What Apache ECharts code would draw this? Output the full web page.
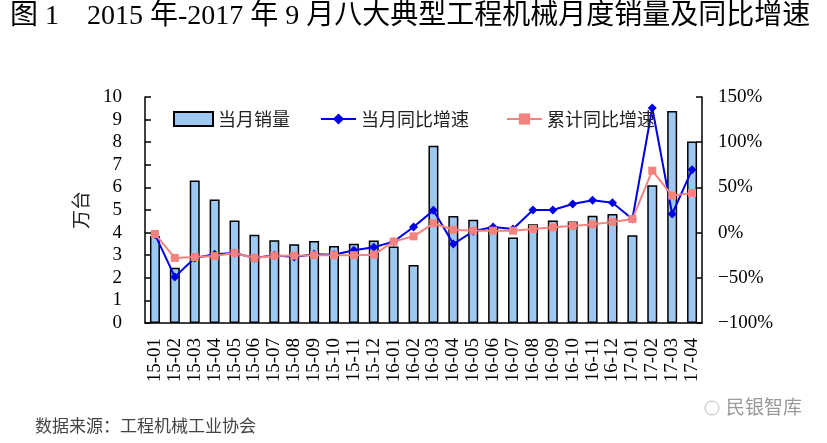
<!DOCTYPE html>
<html>
<head>
<meta charset="utf-8">
<script src="https://cdn.jsdelivr.net/npm/echarts@6/dist/echarts.min.js"></script>
<style>html,body{margin:0;padding:0;background:#fff}#c{width:827px;height:443px}</style>
</head>
<body>
<div id="c"></div>
<script>
const categories = ["15-01","15-02","15-03","15-04","15-05","15-06","15-07","15-08","15-09","15-10","15-11","15-12","16-01","16-02","16-03","16-04","16-05","16-06","16-07","16-08","16-09","16-10","16-11","16-12","17-01","17-02","17-03","17-04"];
const monthlySales = [3.85,2.45,6.3,5.47,4.53,3.91,3.66,3.49,3.63,3.41,3.51,3.65,3.38,2.57,7.84,4.74,4.57,4.26,3.78,4.37,4.54,4.49,4.75,4.82,3.88,6.1,9.38,8.03];
const monthlyYoY = [-2,-49,-28,-24,-22.5,-28,-25,-27,-24,-24.5,-19.6,-16.3,-10,6.2,24.6,-12.6,1.4,6.2,4,25,25,31.6,35.7,33.1,15,137.8,20.6,69.6];
const cumulativeYoY = [-1.5,-28,-27,-26,-22.5,-28,-25.5,-25.5,-25,-25,-25,-24.4,-10,-4.1,10.3,3.2,2.1,2.1,2.1,4,5.8,7.3,9.1,11.7,15,68.5,40.9,43.8];
const leftTicks = {min:0,max:10,interval:1};
const rightTicks = {min:-100,max:150,interval:50};
const seriesNames = ["当月销量","当月同比增速","累计同比增速"];
const titleText = "图 1　2015 年-2017 年 9 月八大典型工程机械月度销量及同比增速";
const sourceText = "数据来源：工程机械工业协会";

const serif = '"Liberation Serif","Noto Sans CJK SC",serif';
const cjk = '"Noto Sans CJK SC",sans-serif';
const chart = echarts.init(document.getElementById('c'));
chart.setOption({
  animation:false,
  title:{text:titleText,left:10,top:3,padding:0,textStyle:{fontFamily:serif,fontSize:28,fontWeight:'normal',color:'#000'}},
  legend:[
    {data:[seriesNames[0]],left:173,top:110,padding:0,itemWidth:39,itemHeight:14,icon:'rect',textStyle:{fontFamily:cjk,fontSize:18,color:'#222'}},
    {data:[seriesNames[1]],left:320,top:110,padding:0,itemWidth:35,itemHeight:14,textStyle:{fontFamily:cjk,fontSize:18,color:'#222'}},
    {data:[seriesNames[2]],left:506,top:110,padding:0,itemWidth:35,itemHeight:14,textStyle:{fontFamily:cjk,fontSize:18,color:'#222'}}
  ],
  grid:{left:145,right:125,top:97,bottom:120},
  xAxis:{type:'category',data:categories,boundaryGap:true,
    axisLine:{lineStyle:{color:'#000',width:1.5}},
    axisTick:{inside:true,length:5,interval:0,lineStyle:{color:'#000',width:1.5}},
    axisLabel:{rotate:90,interval:0,fontFamily:serif,fontSize:19,color:'#000',margin:15}},
  yAxis:[
    {type:'value',min:leftTicks.min,max:leftTicks.max,interval:leftTicks.interval,
     name:'万台',nameLocation:'middle',nameRotate:90,nameGap:55,nameTextStyle:{fontFamily:cjk,fontSize:19,color:'#222'},
     axisLine:{show:true,lineStyle:{color:'#000',width:1.5}},
     axisTick:{show:true,inside:true,length:6,lineStyle:{color:'#000',width:1.5}},
     splitLine:{show:false},
     axisLabel:{fontFamily:serif,fontSize:19,color:'#000',margin:23}},
    {type:'value',min:rightTicks.min,max:rightTicks.max,interval:rightTicks.interval,position:'right',
     axisLine:{show:true,lineStyle:{color:'#000',width:1.5}},
     axisTick:{show:true,inside:true,length:6,lineStyle:{color:'#000',width:1.5}},
     splitLine:{show:false},
     axisLabel:{fontFamily:serif,fontSize:19,color:'#000',margin:16,formatter:v=>String(v).replace('-','\u2212')+'%'}}
  ],
  series:[
    {name:seriesNames[0],type:'bar',data:monthlySales,barWidth:10,yAxisIndex:0,
     itemStyle:{color:'#9DC8F2',borderColor:'#000',borderWidth:1.5}},
    {name:seriesNames[1],type:'line',data:monthlyYoY,yAxisIndex:1,symbol:'diamond',symbolSize:9,
     lineStyle:{color:'#0000E6',width:2},itemStyle:{color:'#0000E6'}},
    {name:seriesNames[2],type:'line',data:cumulativeYoY,yAxisIndex:1,symbol:'rect',symbolSize:8,
     lineStyle:{color:'#F4827E',width:2},itemStyle:{color:'#F4827E'}}
  ],
  graphic:[
    {type:'text',left:35,top:417,style:{text:sourceText,font:'17px "Noto Sans CJK SC"',fill:'#444'}},
    {type:'circle',shape:{cx:712,cy:408,r:7},style:{fill:'none',stroke:'#bbb',lineWidth:1}},
    {type:'text',left:726,top:397,style:{text:'民银智库',font:'19px "Noto Sans CJK SC"',fill:'#999'}}
  ]
});
</script>
</body>
</html>
